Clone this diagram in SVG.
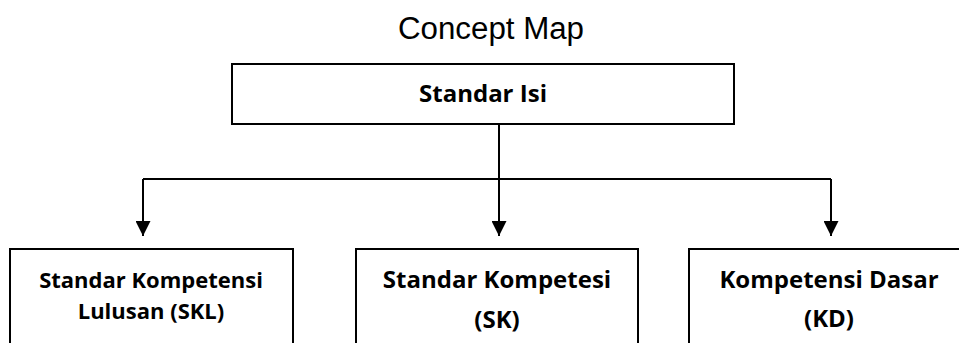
<svg xmlns="http://www.w3.org/2000/svg" width="959" height="343" viewBox="0 0 959 343">
<defs>
<style>
.box{fill:#fff;stroke:#000;stroke-width:2}
.lbl{font-family:"Open Sans","Liberation Sans",sans-serif;font-weight:bold;font-size:24px;fill:#000;text-anchor:middle}
.sm{font-size:22px}
.conn{fill:none;stroke:#000;stroke-width:2}
.title{font-family:"Liberation Sans",Arial,sans-serif;font-size:31px;fill:#000;text-anchor:middle}
</style>
<marker id="arr" viewBox="0 0 10 10" refX="10" refY="5" markerWidth="15" markerHeight="15" markerUnits="userSpaceOnUse" orient="auto">
<path d="M0,0 L10,5 L0,10 Z" fill="#000"/>
</marker>
</defs>
<rect width="959" height="343" fill="#fff"/>
<text class="title" x="491" y="39" textLength="186" lengthAdjust="spacingAndGlyphs">Concept Map</text>
<g id="connectors">
<line class="conn" x1="499" y1="124" x2="499" y2="179"/>
<line class="conn" x1="143" y1="179" x2="831" y2="179"/>
<line class="conn" x1="143" y1="179" x2="143" y2="236" marker-end="url(#arr)"/>
<line class="conn" x1="499" y1="179" x2="499" y2="236" marker-end="url(#arr)"/>
<line class="conn" x1="831" y1="179" x2="831" y2="236" marker-end="url(#arr)"/>
</g>
<g id="standar-isi">
<rect class="box" x="232" y="64" width="502" height="60"/>
<text class="lbl" x="483" y="102">Standar Isi</text>
</g>
<g id="skl">
<rect class="box" x="10" y="249" width="283" height="110"/>
<text class="lbl sm" x="151" y="288">Standar Kompetensi</text>
<text class="lbl sm" x="151" y="319">Lulusan (SKL)</text>
</g>
<g id="sk">
<rect class="box" x="356" y="249" width="282" height="110"/>
<text class="lbl" x="497" y="288">Standar Kompetesi</text>
<text class="lbl" x="497" y="328">(SK)</text>
</g>
<g id="kd">
<rect class="box" x="689" y="249" width="282" height="110"/>
<text class="lbl" x="829" y="288">Kompetensi Dasar</text>
<text class="lbl" x="829" y="327">(KD)</text>
</g>
</svg>
